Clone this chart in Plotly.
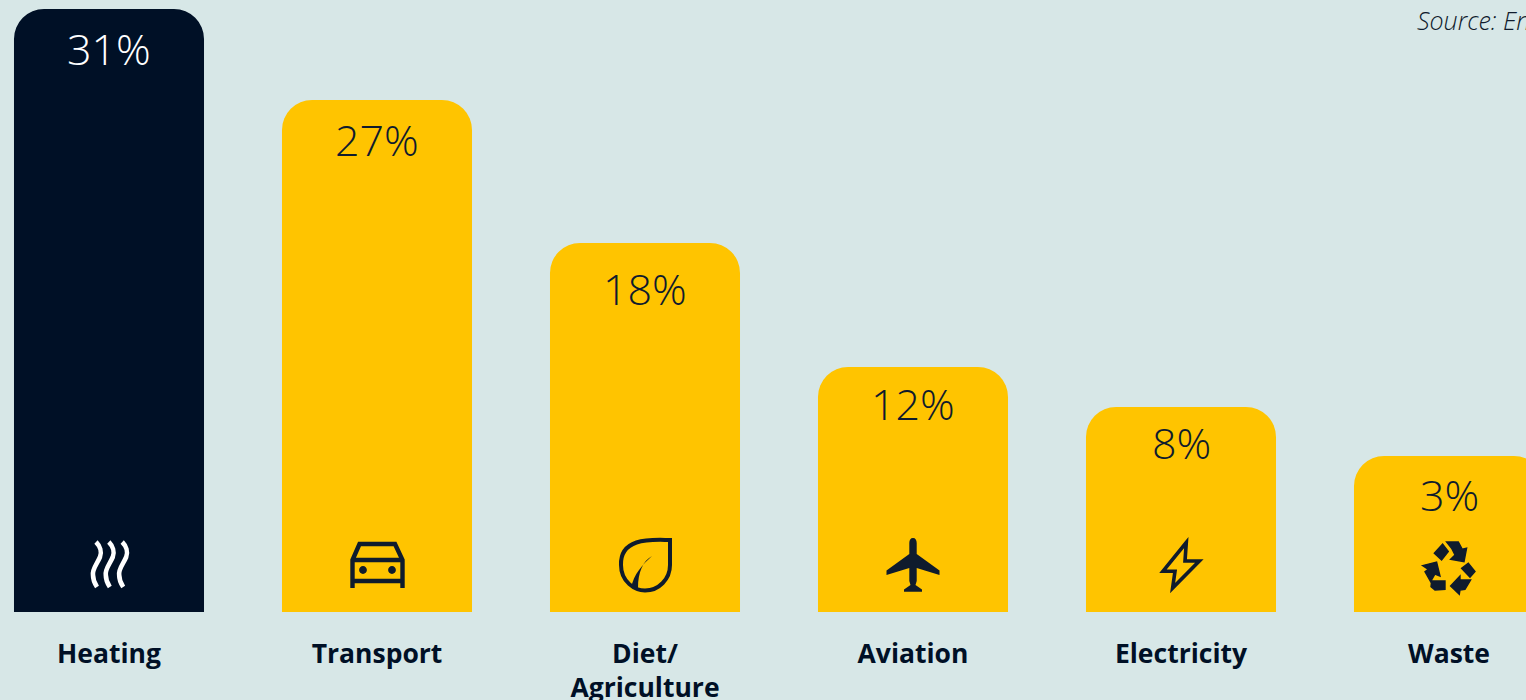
import plotly.graph_objects as go

categories = ["Heating", "Transport", "Diet/<br>Agriculture", "Aviation", "Electricity", "Waste"]
share_labels = ["31%", "27%", "18%", "12%", "8%", "3%"]
bar_heights = [31.0, 26.32, 18.97, 12.60, 10.54, 8.02]
label_offsets = [39, 39, 45, 37, 36, 38]
source_text = "<i>Source: En</i>"

BG = "#D7E7E7"
NAVY = "#001026"
YELLOW = "#FFC400"
ICON = "#0F1B2D"

bar_colors = [NAVY, YELLOW, YELLOW, YELLOW, YELLOW, YELLOW]
label_colors = ["#FFFFFF", ICON, ICON, ICON, ICON, ICON]


def poly(points, cx=1165, cy=205):
    """Closed polygon from points in a 3x sketch grid, to pixels around the icon centre."""
    out = []
    for i, (px, py) in enumerate(points):
        out.append(("M" if i == 0 else "L") + f"{(px - cx) / 3 - 0.7:.1f} {(cy - py) / 3 + 43.7:.1f}")
    return " ".join(out) + " Z"


def dot(x, y, r):
    k = 0.55 * r
    return (f"M{x - r} {y} C{x - r} {y + k} {x - k} {y + r} {x} {y + r} "
            f"C{x + k} {y + r} {x + r} {y + k} {x + r} {y} "
            f"C{x + r} {y - k} {x + k} {y - r} {x} {y - r} "
            f"C{x - k} {y - r} {x - r} {y - k} {x - r} {y} Z")


def wave(s):
    return (f"M{-13 + s} 70 C{-9 + s} 66 {-7 + s} 60 {-9 + s} 55 "
            f"C{-12 + s} 48 {-17 + s} 43 {-16 + s} 37 C{-16 + s} 32 {-14 + s} 28 {-12 + s} 25")


recycle = " ".join(poly(p) for p in [
    [(1123, 160), (1148, 132), (1165, 155), (1145, 180)],
    [(1160, 126), (1195, 126), (1207, 148), (1220, 145), (1212, 185), (1172, 178), (1185, 165), (1175, 145)],
    [(1205, 205), (1225, 190), (1245, 215), (1230, 232)],
    [(1172, 258), (1200, 228), (1200, 240), (1232, 240), (1215, 268), (1200, 270), (1198, 283)],
    [(1115, 243), (1155, 243), (1155, 268), (1125, 270), (1113, 260)],
    [(1088, 197), (1130, 186), (1140, 228), (1125, 222), (1112, 245), (1095, 215), (1105, 208)],
])

plane = ("M0 74 C2.5 74 3.7 72 3.7 69 L3.7 58 L26.5 41.5 L26.5 37 L3.7 44 L3.7 31 L2.5 27 L9 22.5 L9 20.3 "
         "L-9 20.3 L-9 22.5 L-2.5 27 L-3.7 31 L-3.7 44 L-26.5 37 L-26.5 41.5 L-3.7 58 L-3.7 69 C-3.7 72 -2.5 74 0 74 Z")
car = ("M-24.5 24 V52 L-17.5 68 H18 L25.5 52 V24 M-24.5 52 H25.5 M-24.5 31 H25.5")
leaf = "M25 72 C10 72 -25 76 -24 47 C-24 30 -10 21.5 0 21.5 C14 21.5 25 33 25 47 Z"
vein = "M-14 24 C-11 38 -3 47 7 56 C-2 51 -7 40 -7 24 Z"
bolt = "M5.3 69.5 L-18 40.8 L-6 40.8 L-8.4 24 L18.3 51 L4 51 Z"

# (category index, path, fill, stroke, stroke width)
icons = [
    (0, wave(0), None, "#FFFFFF", 4.6),
    (0, wave(12.8), None, "#FFFFFF", 4.6),
    (0, wave(26.2), None, "#FFFFFF", 4.6),
    (1, car, None, ICON, 4.4),
    (1, dot(-14, 42, 3.9) + " " + dot(15, 42, 3.9), ICON, None, 0),
    (2, leaf, None, ICON, 4),
    (2, vein, ICON, None, 0),
    (3, plane, ICON, None, 0),
    (4, bolt, None, ICON, 3.6),
    (5, recycle, ICON, ICON, 1.4),
]

fig = go.Figure(go.Bar(
    x=categories,
    y=bar_heights,
    marker=dict(color=bar_colors, line=dict(width=0), cornerradius=30),
    hoverinfo="skip",
))

for idx, path, fill, stroke, sw in icons:
    fig.add_shape(
        type="path", path=path, xref="x", yref="y",
        xsizemode="pixel", ysizemode="pixel",
        xanchor=categories[idx], yanchor=0,
        fillcolor=fill if fill else "rgba(0,0,0,0)",
        line=dict(color=stroke if stroke else "rgba(0,0,0,0)", width=sw),
        layer="above",
    )

for cat, lab, h, off, col in zip(categories, share_labels, bar_heights, label_offsets, label_colors):
    fig.add_annotation(
        x=cat, y=h, text=lab, showarrow=False, yanchor="middle", xanchor="center", yshift=-off,
        font=dict(family="Open Sans", size=43, color=col, weight=300),
    )

fig.add_annotation(
    xref="paper", yref="paper", x=1415 / 1526, y=1 - 20 / 612, text=source_text, showarrow=False,
    xanchor="left", yanchor="middle", align="left",
    font=dict(family="Open Sans", size=25, color=ICON, weight=300),
)

fig.update_layout(
    width=1526, height=700, margin=dict(l=0, r=0, t=0, b=88),
    paper_bgcolor=BG, plot_bgcolor=BG, showlegend=False, bargap=0.291,
    font=dict(family="Open Sans", color=NAVY),
    xaxis=dict(
        type="category", range=[-109 / 268, (1526 - 109) / 268],
        showgrid=False, zeroline=False, showline=False,
        ticks="outside", ticklen=18, tickcolor="rgba(0,0,0,0)",
        tickfont=dict(family="Open Sans", size=26.5, color=NAVY, weight=700),
        automargin=False, tickangle=0,
    ),
    yaxis=dict(range=[0, 31 * 612 / 603], visible=False, fixedrange=True),
)

fig.write_html("out.html", config={"displayModeBar": False},
               post_script="document.body.style.margin='0';document.documentElement.style.overflow='hidden';")
